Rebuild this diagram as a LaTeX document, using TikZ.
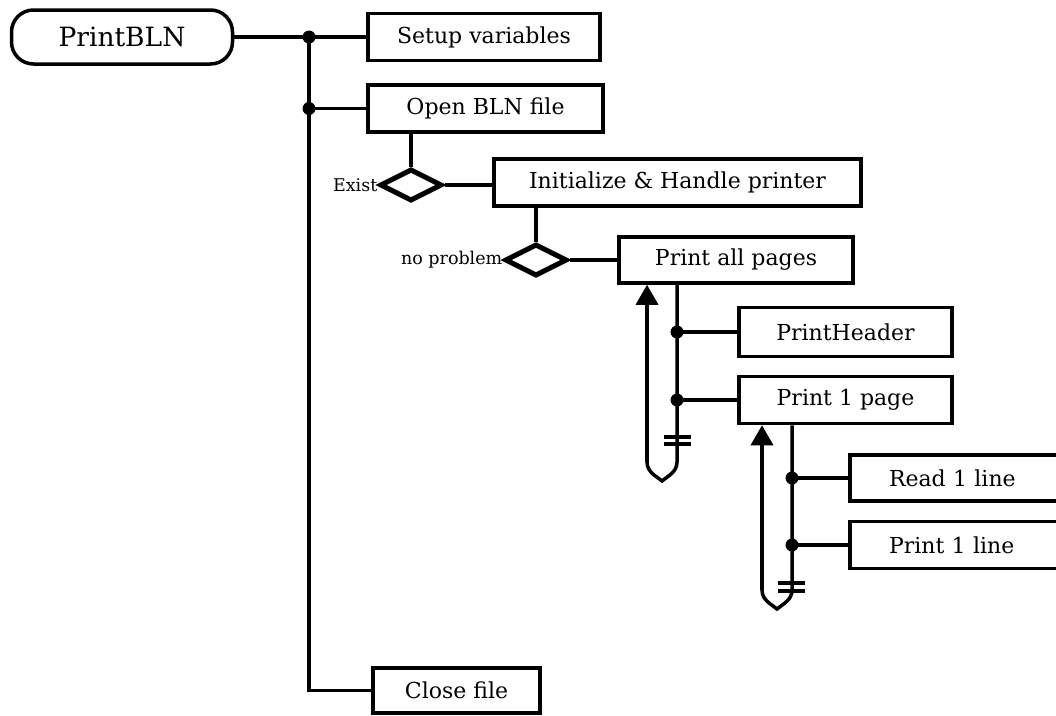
\documentclass[tikz,border=0pt]{standalone}
\usepackage{fontspec}
\setmainfont{DejaVu Serif}
\usetikzlibrary{shapes.geometric,arrows.meta}
\begin{document}
\begin{tikzpicture}[x=1pt,y=-1pt,
  box/.style={draw,line width=3.5pt,inner sep=0pt,font=\fontsize{22}{26}\selectfont},
  term/.style={draw,line width=3.5pt,rounded corners=22pt,inner sep=0pt,font=\fontsize{26.5}{30}\selectfont},
  dec/.style={draw,diamond,line width=5pt,inner sep=0pt,minimum width=62pt,minimum height=32pt},
  wire/.style={line width=3.5pt},
  lbl/.style={font=\fontsize{17.5}{20}\selectfont,inner sep=0pt},
  up/.style={wire,-{Triangle[length=20pt,width=22pt]}},
  dotc/.style={fill,circle,inner sep=0pt,minimum size=13pt}]
\clip (0,0) rectangle (1056,715);
\fill[white] (0,0) rectangle (1056,715);

% nodes
\node[term,minimum width=221pt,minimum height=54pt] (pb) at (122,37) {PrintBLN};
\node[box,minimum width=232pt,minimum height=47pt] (setup) at (484,37) {Setup variables};
\node[box,minimum width=235pt,minimum height=47pt] (open) at (485.5,108.5) {Open BLN file};
\node[dec] (d1) at (411,185) {};
\node[lbl,anchor=east] (lexist) at (d1.west) {Exist};
\node[box,minimum width=367pt,minimum height=47pt] (init) at (677.5,182.5) {Initialize \& Handle printer};
\node[dec] (d2) at (536,260) {};
\node[lbl,anchor=east] (lnoprob) at (d2.west) {no problem};
\node[box,minimum width=234pt,minimum height=46pt] (pall) at (736,260) {Print all pages};
\node[box,minimum width=213pt,minimum height=49pt] (phdr) at (845.5,332) {PrintHeader};
\node[box,minimum width=213pt,minimum height=47pt] (p1pg) at (845.5,400) {Print 1 page};
\node[box,minimum width=230pt,minimum height=46pt,text width=200pt,align=left] (rd) at (965,478) {\hspace*{24pt}Read 1 line};
\node[box,minimum width=230pt,minimum height=47pt,text width=200pt,align=left] (pl) at (965,545) {\hspace*{24pt}Print 1 line};
\node[box,minimum width=167pt,minimum height=45pt] (close) at (456.5,690.5) {Close file};

% junction points
\coordinate (j1) at (309,37);
\coordinate (j2) at (309,108.5);
\coordinate (k1) at (677,332);
\coordinate (k2) at (677,400);
\coordinate (m1) at (792,478);
\coordinate (m2) at (792,545);

% main trunk
\draw[wire] (pb.east) -- (j1) -- (setup.west);
\draw[wire] (j2) -- (open.west);
\draw[wire] (j1) |- (close.west);
\node[dotc] (dj1) at (j1) {};
\node[dotc] (dj2) at (j2) {};

% open -> exist -> init
\draw[wire] (d1.north |- open.south) -- (d1.north);
\draw[wire] (d1.east) -- (d1.east -| init.west);
\draw[wire] (d2.north |- init.south) -- (d2.north);
\draw[wire] (d2.east) -- (pall.west);

% print all pages loop
\coordinate (a1) at (677,462);
\coordinate (b1) at (647,462);
\draw[wire] (pall.south -| k1) -- (k1) -- (k2) -- (a1)
  .. controls (677,472) and (668,476) .. (662,481)
  .. controls (656,476) and (647,472) .. (b1);
\draw[up] (b1) -- (pall.south -| b1);
\draw[wire] (k1) -- (k1 -| phdr.west);
\draw[wire] (k2) -- (k2 -| p1pg.west);
\node[dotc] (dk1) at (k1) {};
\node[dotc] (dk2) at (k2) {};
\draw[wire] (664,437) -- (691,437);
\draw[wire] (664,444) -- (691,444);

% print 1 page loop
\coordinate (a2) at (792,590);
\coordinate (b2) at (762,590);
\draw[wire] (p1pg.south -| m1) -- (m1) -- (m2) -- (a2)
  .. controls (792,600) and (783,604) .. (777,609)
  .. controls (771,604) and (762,600) .. (b2);
\draw[up] (b2) -- (p1pg.south -| b2);
\draw[wire] (m1) -- (m1 -| rd.west);
\draw[wire] (m2) -- (m2 -| pl.west);
\node[dotc] (dm1) at (m1) {};
\node[dotc] (dm2) at (m2) {};
\draw[wire] (778,583) -- (805,583);
\draw[wire] (778,591) -- (805,591);
\end{tikzpicture}
\end{document}
